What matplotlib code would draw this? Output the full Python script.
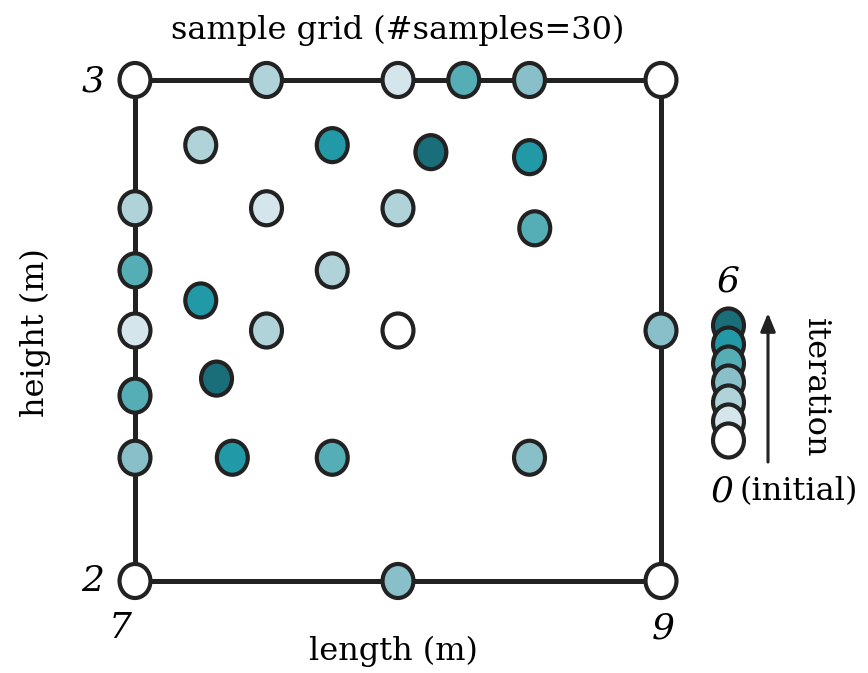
import numpy as np
import matplotlib.pyplot as plt
from matplotlib.path import Path
from matplotlib.transforms import Affine2D

# sample positions (length, height) and the iteration each was added in
length = [7.0, 7.5, 8.0, 8.25, 8.5, 9.0,
          7.25, 7.75, 8.125, 8.5,
          7.0, 7.5, 8.0, 8.52,
          7.0, 7.75, 7.25,
          7.0, 7.5, 8.0, 9.0,
          7.31, 7.0,
          7.0, 7.37, 7.75, 8.5,
          7.0, 8.0, 9.0]
height = [3.0, 3.0, 3.0, 3.0, 3.0, 3.0,
          2.87, 2.87, 2.856, 2.846,
          2.744, 2.744, 2.744, 2.704,
          2.62, 2.62, 2.56,
          2.5, 2.5, 2.5, 2.5,
          2.404, 2.37,
          2.246, 2.246, 2.246, 2.246,
          2.0, 2.0, 2.0]
iteration = [0, 2, 1, 4, 3, 0,
             2, 5, 6, 5,
             2, 1, 2, 4,
             4, 2, 5,
             1, 2, 0, 3,
             6, 4,
             3, 5, 4, 3,
             0, 3, 0]

level_colors = ['#ffffff', '#d4e6ec', '#afd3d8', '#88bfc9', '#55adb6', '#2299a6', '#1a6e79']
edge = '#222222'

# slightly tall ellipse marker, like the reference
marker = Path.unit_circle().transformed(Affine2D().scale(1.0, 1.1))
msize = 600

fig = plt.figure(figsize=(8.68, 6.73), dpi=100)
W, H = 868, 673
ax = fig.add_axes([135 / W, (H - 581) / H, 526 / W, 501 / H])
ax.set_xlim(7, 9)
ax.set_ylim(2, 3)
for s in ax.spines.values():
    s.set_linewidth(3.6)
    s.set_color(edge)
    s.set_zorder(1)
ax.set_xticks([])
ax.set_yticks([])

cols = [level_colors[i] for i in iteration]
ax.scatter(length, height, s=msize, c=cols, marker=marker, edgecolors=edge,
           linewidths=3.0, zorder=3, clip_on=False)

serif = ['DejaVu Serif']
fs = 23
dfs = 26
# tick labels
ax.text(-0.08, 0.997, '3', transform=ax.transAxes, ha='center', va='center',
        fontsize=dfs, style='italic', family=serif)
ax.text(-0.08, 0.0, '2', transform=ax.transAxes, ha='center', va='center',
        fontsize=dfs, style='italic', family=serif)
ax.text(-0.028, -0.094, '7', transform=ax.transAxes, ha='center', va='center',
        fontsize=dfs, style='italic', family=serif)
ax.text(1.005, -0.094, '9', transform=ax.transAxes, ha='center', va='center',
        fontsize=dfs, style='italic', family=serif)

fig.text(398 / W, 1 - 30 / H, 'sample grid (#samples=30)', ha='center', va='center',
         fontsize=fs, family=serif)
fig.text(393 / W, 1 - 651 / H, 'length (m)', ha='center', va='center',
         fontsize=fs, family=serif)
fig.text(35 / W, 1 - 333 / H, 'height (m)', ha='center', va='center',
         fontsize=fs, family=serif, rotation=90)

# iteration legend
lax = fig.add_axes([0, 0, 1, 1])
lax.set_xlim(0, W)
lax.set_ylim(H, 0)
lax.axis('off')
levels = np.arange(len(level_colors))
for k in levels[::-1]:
    lax.scatter([728], [440 - 19.2 * k], s=msize, c=[level_colors[k]], marker=marker,
                edgecolors=edge, linewidths=3.0, zorder=3 + (6 - k))
lax.annotate('', xy=(768, 313), xytext=(768, 462),
             arrowprops=dict(arrowstyle='-|>,head_length=1.1,head_width=0.45',
                             color=edge, lw=2.2, shrinkA=0, shrinkB=0))
lax.text(815, 388, 'iteration', rotation=-90, ha='center', va='center',
         fontsize=fs, family=serif)
lax.text(728, 281, '6', ha='center', va='center', fontsize=dfs,
         style='italic', family=serif)
lax.text(722, 492, '0', ha='center', va='center', fontsize=dfs,
         style='italic', family=serif)
lax.text(740, 492, '(initial)', ha='left', va='center',
         fontsize=fs, family=serif)

fig.savefig('out.png', dpi=100)
